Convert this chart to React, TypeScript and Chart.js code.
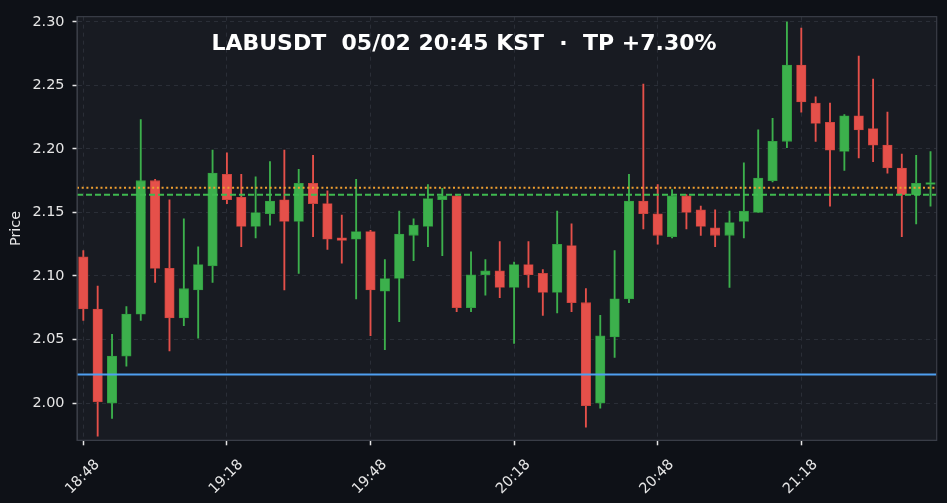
import React, { useEffect, useRef } from 'react';
import { Chart, registerables } from 'chart.js';

Chart.register(...registerables);

// ---- data ----
const OPEN = [
  2.115, 2.074, 2.000, 2.037, 2.070, 2.175, 2.106, 2.067, 2.089, 2.108,
  2.180, 2.162, 2.139, 2.149, 2.160, 2.143, 2.173, 2.157, 2.130, 2.129,
  2.135, 2.088, 2.098, 2.132, 2.139, 2.160, 2.163, 2.075, 2.101, 2.104,
  2.091, 2.109, 2.102, 2.087, 2.124, 2.079, 2.000, 2.052, 2.082, 2.159,
  2.149, 2.131, 2.163, 2.152, 2.138, 2.132, 2.143, 2.150, 2.175, 2.206,
  2.266, 2.236, 2.221, 2.198, 2.226, 2.216, 2.203, 2.185, 2.164, 2.172,
];
const HIGH = [
  2.120, 2.092, 2.054, 2.076, 2.223, 2.176, 2.160, 2.145, 2.123, 2.199,
  2.197, 2.180, 2.178, 2.190, 2.199, 2.184, 2.195, 2.167, 2.148, 2.176,
  2.136, 2.113, 2.151, 2.145, 2.172, 2.169, 2.164, 2.119, 2.113, 2.127,
  2.111, 2.127, 2.105, 2.151, 2.141, 2.090, 2.069, 2.120, 2.180, 2.251,
  2.172, 2.168, 2.164, 2.155, 2.152, 2.151, 2.189, 2.215, 2.224, 2.300,
  2.295, 2.241, 2.236, 2.227, 2.273, 2.255, 2.229, 2.196, 2.195, 2.198,
];
const LOW = [
  2.065, 1.974, 1.988, 2.029, 2.065, 2.095, 2.041, 2.061, 2.051, 2.095,
  2.157, 2.123, 2.130, 2.140, 2.089, 2.102, 2.131, 2.121, 2.110, 2.082,
  2.053, 2.042, 2.064, 2.112, 2.123, 2.116, 2.072, 2.072, 2.085, 2.083,
  2.047, 2.091, 2.069, 2.071, 2.072, 1.981, 1.996, 2.036, 2.079, 2.137,
  2.125, 2.130, 2.137, 2.132, 2.123, 2.091, 2.130, 2.150, 2.174, 2.201,
  2.229, 2.206, 2.155, 2.183, 2.193, 2.190, 2.181, 2.131, 2.141, 2.155,
];
const CLOSE = [
  2.074, 2.001, 2.037, 2.070, 2.175, 2.106, 2.067, 2.090, 2.109, 2.181,
  2.160, 2.139, 2.150, 2.159, 2.143, 2.173, 2.157, 2.129, 2.128, 2.135,
  2.089, 2.098, 2.133, 2.140, 2.161, 2.163, 2.075, 2.101, 2.104, 2.091,
  2.109, 2.101, 2.087, 2.125, 2.079, 1.998, 2.053, 2.082, 2.159, 2.149,
  2.132, 2.163, 2.150, 2.139, 2.132, 2.142, 2.151, 2.177, 2.206, 2.266,
  2.237, 2.220, 2.199, 2.226, 2.215, 2.203, 2.185, 2.164, 2.173, 2.173,
];

const X_TICK_POS = [0, 10, 20, 30, 40, 50];
const X_TICK_LABELS = ['18:48', '19:18', '19:48', '20:18', '20:48', '21:18'];
const Y_TICKS = [2.0, 2.05, 2.1, 2.15, 2.2, 2.25, 2.3];

const LEVEL_ORANGE = 2.1694;
const LEVEL_GREEN = 2.164;
const LEVEL_BLUE = 2.0224;

const TITLE = 'LABUSDT  05/02 20:45 KST  \u00b7  TP +7.30%';

// ---- style ----
const X_MIN = -0.44;
const X_MAX = 59.43;
const Y_MIN = 1.9707;
const Y_MAX = 2.3041;
const UP = '#3cb04c';
const DOWN = '#e5504a';
const UP_EDGE = '#2f9a3f';
const DOWN_EDGE = '#c9423d';
const PAGE_BG = '#0e1117';
const PLOT_BG = '#181b22';
const GRID = '#2a2e37';
const FRAME = '#3a3e47';
const TEXT = '#e6e6e6';
const FONT = 'DejaVu Sans';

export default function App() {
  const ref = useRef<HTMLCanvasElement | null>(null);

  useEffect(() => {
    document.body.style.margin = '0';
    const canvas = ref.current;
    if (!canvas) return;

    const isUp = OPEN.map((o, i) => CLOSE[i] >= o);

    const bgPlugin = {
      id: 'bgPlugin',
      beforeDraw(chart: any) {
        const { ctx, chartArea } = chart;
        ctx.save();
        ctx.fillStyle = PAGE_BG;
        ctx.fillRect(0, 0, chart.width, chart.height);
        ctx.fillStyle = PLOT_BG;
        ctx.fillRect(chartArea.left, chartArea.top, chartArea.right - chartArea.left, chartArea.bottom - chartArea.top);
        ctx.restore();
      },
      afterDraw(chart: any) {
        const { ctx, chartArea } = chart;
        ctx.save();
        ctx.strokeStyle = FRAME;
        ctx.lineWidth = 1.2;
        ctx.strokeRect(chartArea.left, chartArea.top, chartArea.right - chartArea.left, chartArea.bottom - chartArea.top);
        ctx.fillStyle = '#ffffff';
        ctx.font = `bold 22px "${FONT}"`;
        ctx.textAlign = 'center';
        ctx.textBaseline = 'alphabetic';
        ctx.fillText(TITLE, 464, 50);
        ctx.restore();
      },
    };

    const levelLine = (y: number, color: string, dash: number[], order: number) => ({
      type: 'line' as const,
      data: [
        { x: X_MIN, y },
        { x: X_MAX, y },
      ],
      borderColor: color,
      borderWidth: 2,
      borderDash: dash,
      pointRadius: 0,
      order,
    });

    const chart = new Chart(canvas, {
      type: 'bar',
      data: {
        datasets: [
          {
            type: 'bar',
            data: OPEN.map((o, i) => ({ x: i, y: [LOW[i], HIGH[i]] })) as any,
            backgroundColor: isUp.map((u) => (u ? UP : DOWN)),
            borderWidth: 0,
            barThickness: 1.2,
            grouped: false,
            order: 5,
          },
          {
            type: 'bar',
            data: OPEN.map((o, i) => ({ x: i, y: [Math.min(o, CLOSE[i]), Math.max(o, CLOSE[i])] })) as any,
            backgroundColor: isUp.map((u) => (u ? UP : DOWN)),
            borderColor: isUp.map((u) => (u ? UP_EDGE : DOWN_EDGE)),
            borderWidth: 0.8,
            borderSkipped: false,
            barThickness: 9.5,
            minBarLength: 2,
            grouped: false,
            order: 4,
          },
          levelLine(LEVEL_BLUE, '#4f9ff0', [], 1),
          levelLine(LEVEL_GREEN, '#3fb950', [6, 3], 2),
          levelLine(LEVEL_ORANGE, '#f0a030', [2, 2.7], 3),
        ] as any,
      },
      options: {
        animation: false,
        responsive: true,
        maintainAspectRatio: false,
        layout: { padding: { left: 0, right: 10.3, top: 12, bottom: 0 } },
        plugins: {
          legend: { display: false },
          tooltip: { enabled: false },
          title: { display: false },
        },
        scales: {
          x: {
            type: 'linear',
            min: X_MIN,
            max: X_MAX,
            offset: false,
            afterBuildTicks: (s: any) => {
              s.ticks = X_TICK_POS.map((v) => ({ value: v }));
            },
            afterFit: (s: any) => {
              s.height = 62.7;
            },
            ticks: {
              autoSkip: false,
              maxRotation: 45,
              minRotation: 45,
              color: TEXT,
              padding: 11,
              labelOffset: 14,
              font: { family: FONT, size: 14.4 },
              callback: (v: any) => {
                const idx = X_TICK_POS.indexOf(Number(v));
                return idx >= 0 ? X_TICK_LABELS[idx] : '';
              },
            },
            grid: {
              offset: false,
              color: GRID,
              lineWidth: 1,
              drawTicks: true,
              tickLength: 5,
              tickColor: TEXT,
              tickWidth: 1.5,
              tickBorderDash: [],
            },
            border: { display: true, color: FRAME, dash: [4, 4] },
          },
          y: {
            type: 'linear',
            min: Y_MIN,
            max: Y_MAX,
            afterBuildTicks: (s: any) => {
              s.ticks = Y_TICKS.map((v) => ({ value: v }));
            },
            afterFit: (s: any) => {
              s.width = 77;
            },
            ticks: {
              color: TEXT,
              padding: 8,
              font: { family: FONT, size: 14.4 },
              callback: (v: any) => Number(v).toFixed(2),
            },
            title: {
              display: true,
              text: 'Price',
              color: TEXT,
              font: { family: FONT, size: 14.4 },
              padding: { top: 8, bottom: 0 },
            },
            grid: {
              color: GRID,
              lineWidth: 1,
              drawTicks: true,
              tickLength: 4.5,
              tickColor: TEXT,
              tickWidth: 1.5,
              tickBorderDash: [],
            },
            border: { display: true, color: FRAME, dash: [4, 4] },
          },
        },
      } as any,
      plugins: [bgPlugin],
    });

    return () => {
      chart.destroy();
    };
  }, []);

  return (
    <div style={{ position: 'fixed', left: 0, top: 0, width: 947, height: 503, background: PAGE_BG }}>
      <canvas ref={ref} style={{ width: '100%', height: '100%' }} />
    </div>
  );
}
